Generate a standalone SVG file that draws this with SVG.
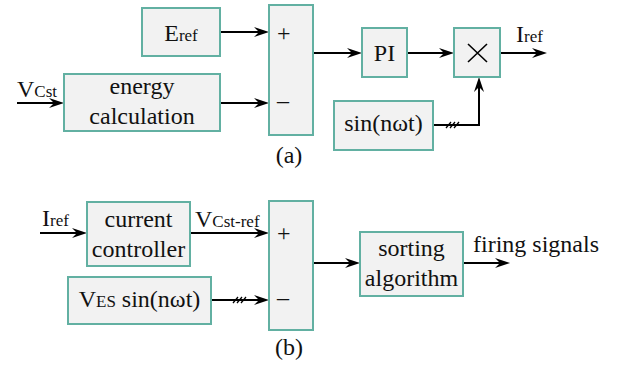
<svg xmlns="http://www.w3.org/2000/svg" width="626" height="369" viewBox="0 0 626 369" font-family="'Liberation Serif', 'Times New Roman', Times, 'DejaVu Serif', serif">
<style>
.box{fill:#f2f2f2;stroke:#62b0a2;stroke-width:2}
.ln{fill:none;stroke:#000;stroke-width:2}
.hl{fill:none;stroke:#000;stroke-width:1.3}
text{font-family:'Liberation Serif', 'Times New Roman', Times, 'DejaVu Serif', serif;font-size:24px;fill:#111}
.m{text-anchor:middle}
.s{font-size:17px}
</style>
<defs>
<marker id="ah" markerUnits="userSpaceOnUse" markerWidth="16" markerHeight="10" refX="5" refY="5" orient="auto">
<path d="M0,0 L15,5 L0,10 L5,5 Z" fill="#000"/>
</marker>
</defs>
<rect width="626" height="369" fill="#fff"/>
<g id="connectors">
<path class="ln" d="M220,32 H259" marker-end="url(#ah)"/>
<path class="ln" d="M17,103 H54" marker-end="url(#ah)"/>
<path class="ln" d="M220,103 H259" marker-end="url(#ah)"/>
<path class="ln" d="M313,53 H352" marker-end="url(#ah)"/>
<path class="ln" d="M407,53 H444" marker-end="url(#ah)"/>
<path class="ln" d="M500,53 H537" marker-end="url(#ah)"/>
<path class="ln" d="M433,125 H479 V87" marker-end="url(#ah)"/>
<path class="hl" d="M446,128 L451,122 M450,128 L455,122 M454,128 L459,122"/>
<path class="ln" d="M40,233 H77" marker-end="url(#ah)"/>
<path class="ln" d="M190,233 H259" marker-end="url(#ah)"/>
<path class="ln" d="M211,300 H259" marker-end="url(#ah)"/>
<path class="hl" d="M233,303 L238,297 M237,303 L242,297 M241,303 L246,297"/>
<path class="ln" d="M313,263 H350" marker-end="url(#ah)"/>
<path class="ln" d="M463,263 H500" marker-end="url(#ah)"/>
</g>
<g id="eref"><rect class="box" x="142" y="8" width="78" height="48"/><text class="m" x="181" y="41">E<tspan class="s">ref</tspan></text></g>
<g id="energy"><rect class="box" x="64" y="74" width="156" height="57"/><text class="m" x="142" y="94">energy</text><text class="m" x="142" y="124">calculation</text></g>
<g id="sum-a"><rect class="box" x="269" y="5" width="44" height="130"/><text x="277" y="41">+</text><text x="277" y="108">–</text></g>
<g id="pi"><rect class="box" x="362" y="28" width="45" height="49"/><text class="m" x="384.5" y="61">PI</text></g>
<g id="mult"><rect class="box" x="454" y="28" width="46" height="49"/><path class="ln" d="M468,44 L487,62 M487,44 L468,62" style="stroke-width:1.6"/></g>
<g id="sin"><rect class="box" x="334" y="101" width="99" height="49"/><text class="m" x="383.5" y="131">sin(nωt)</text></g>
<g id="labels-a"><text x="17" y="97">V<tspan class="s">Cst</tspan></text><text x="516" y="42">I<tspan class="s">ref</tspan></text><text class="m" x="289" y="163">(a)</text></g>
<g id="cc"><rect class="box" x="87" y="202" width="103" height="64"/><text class="m" x="138.5" y="227">current</text><text class="m" x="138.5" y="257">controller</text></g>
<g id="ves"><rect class="box" x="68" y="277" width="143" height="47"/><text class="m" x="139.5" y="307">V<tspan class="s">ES</tspan> sin(nωt)</text></g>
<g id="sum-b"><rect class="box" x="269" y="201" width="44" height="129"/><text x="277" y="241">+</text><text x="277" y="305">–</text></g>
<g id="sorting"><rect class="box" x="360" y="232" width="103" height="64"/><text class="m" x="411.5" y="256">sorting</text><text class="m" x="411.5" y="286">algorithm</text></g>
<g id="labels-b"><text x="42" y="226">I<tspan class="s">ref</tspan></text><text x="195" y="227">V<tspan class="s">Cst-ref</tspan></text><text x="473" y="252">firing signals</text><text class="m" x="289" y="355">(b)</text></g>
</svg>
